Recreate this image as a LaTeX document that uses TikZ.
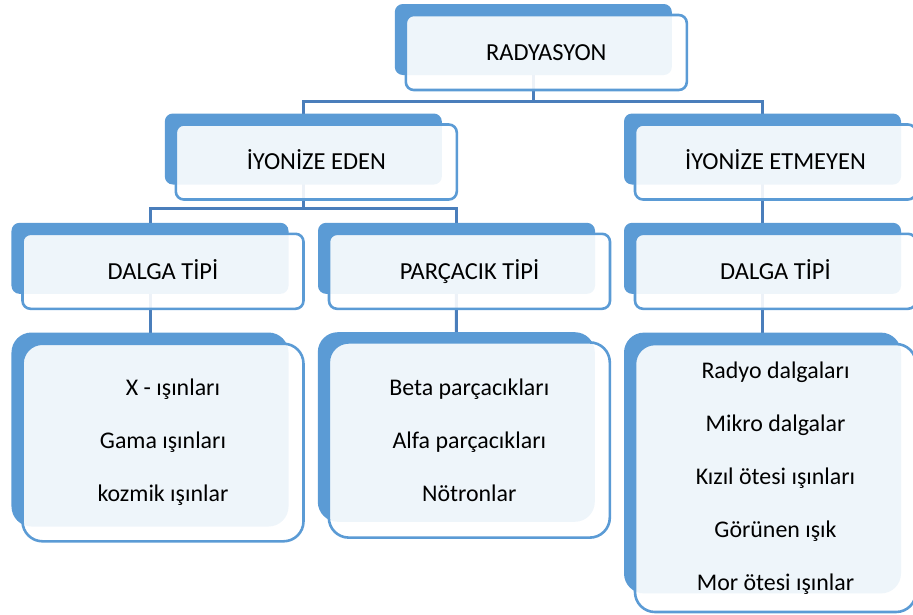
\documentclass[tikz,border=0pt]{standalone}
\usepackage{fontspec}
\setmainfont{Carlito}
\usetikzlibrary{positioning}
\definecolor{boxblue}{HTML}{5B9BD5}
\definecolor{linkblue}{HTML}{4A7EBB}
\tikzset{
backbox/.style={fill=boxblue, rounded corners=2mm, inner sep=0pt, minimum width=69.25mm, minimum height=17.75mm},
frontbox/.style={draw=boxblue, line width=0.65mm, fill=white, fill opacity=0.9, text opacity=1, rounded corners=2mm, inner sep=0pt, minimum width=70.25mm, minimum height=18.75mm, xshift=3.25mm, yshift=-3.25mm, align=center, font=\fontsize{17}{37.7}\selectfont},
headbox/.style={frontbox, text height=11.2pt, text depth=0pt, font=\fontsize{17.4}{20}\selectfont},
listbox/.style={frontbox, rounded corners=5mm},
link/.style={draw=linkblue, line width=0.75mm}
}

\begin{document}
\begin{tikzpicture}[x=0.25mm,y=-0.25mm]
\useasboundingbox (0,0) rectangle (913,614);

\coordinate (c0) at (533.3,39.5);
\coordinate (c1) at (303.3,149);
\coordinate (c2) at (762.5,149);
\coordinate (c3) at (150,258.3);
\coordinate (c4) at (456.5,258.3);
\coordinate (c5) at (762.5,258.3);
\coordinate (c6) at (150,429.5);
\coordinate (c7) at (456.3,427);
\coordinate (c8) at (762.5,463);

\draw[link] (c0) -- ++(0,61.5) -| (c1);
\draw[link] (c0) -- ++(0,61.5) -| (c2);
\draw[link] (c1) -- ++(0,59.2) -| (c3);
\draw[link] (c1) -- ++(0,59.2) -| (c4);
\foreach \a/\b in {2/5,3/6,4/7,5/8} {
\draw[link] (c\a) -- (c\b);
}

\foreach \x in {0,1,2,3,4,5} {
\node (b\x) at (c\x) [backbox] {};
}
\node (b6) at (c6) [backbox, rounded corners=5mm, minimum height=48.5mm] {};
\node (b7) at (c7) [backbox, rounded corners=5mm, minimum height=47.4mm] {};
\node (b8) at (c8) [backbox, rounded corners=5mm, minimum height=65.2mm] {};

\node (f0) at (c0) [headbox] {RADYASYON};
\node (f1) at (c1) [headbox] {İYONİZE EDEN};
\node (f2) at (c2) [headbox] {İYONİZE ETMEYEN};
\node (f3) at (c3) [headbox] {DALGA TİPİ};
\node (f4) at (c4) [headbox] {PARÇACIK TİPİ};
\node (f5) at (c5) [headbox] {DALGA TİPİ};
\node (f6) at (c6) [listbox, minimum height=49.4mm] {\hspace*{5mm}X - ışınları\\Gama ışınları\\kozmik ışınlar};
\node (f7) at (c7) [listbox, minimum height=48.8mm] {Beta parçacıkları\\Alfa parçacıkları\\Nötronlar};
\node (f8) at (c8) [listbox, minimum height=67mm, yshift=-0.5mm] {Radyo dalgaları\\Mikro dalgalar\\Kızıl ötesi ışınları\\Görünen ışık\\Mor ötesi ışınlar};
\end{tikzpicture}
\end{document}
